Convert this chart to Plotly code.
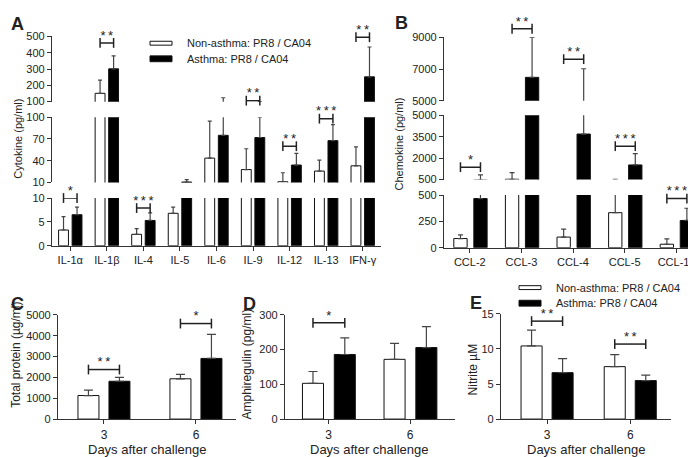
import plotly.graph_objects as go

W, H = 696, 457
FONT = "Liberation Sans, Arial, sans-serif"
INK = "#222222"
AX = "#333333"

# ---------------- data ----------------
a_cats = ["IL-1α", "IL-1β", "IL-4", "IL-5", "IL-6", "IL-9", "IL-12", "IL-13", "IFN-γ"]
a_non = [3.3, 151, 2.4, 6.8, 43.6, 27.8, 11, 25.7, 33]
a_non_sd = [2.8, 81, 1.2, 1.3, 51, 28.7, 12.4, 15.1, 26]
a_asth = [6.5, 301, 5.3, 10.6, 75, 72, 34, 67.7, 252]
a_asth_sd = [1.6, 79, 1.6, 3.4, 49, 28, 16, 22, 183]
a_sig = ["*", "**", "***", "", "", "**", "**", "***", "**"]
a_sig_y = [10, 460, 7.9, None, None, 106, 60, 98, 495]
a_breaks = [(0, 10), (10, 100), (100, 500)]
a_ticks = [[0, 5, 10], [10, 40, 70, 100], [100, 200, 300, 400, 500]]

b_cats = ["CCL-2", "CCL-3", "CCL-4", "CCL-5", "CCL-11"]
b_non = [87, 520, 101, 333, 33]
b_non_sd = [35, 460, 75, 187, 50]
b_asth = [467, 6473, 3684, 1522, 259]
b_asth_sd = [353, 2527, 3334, 798, 116]
b_sig = ["*", "**", "**", "***", "***"]
b_sig_y = [1366, 9545, 7624, 2838, 467]
b_breaks = [(0, 500), (500, 5000), (5000, 9000)]
b_ticks = [[0, 250, 500], [500, 2000, 3500, 5000], [5000, 7000, 9000]]

days = ["3", "6"]
c_non = [1129, 1933]
c_non_sd = [256, 215]
c_asth = [1815, 2911]
c_asth_sd = [182, 1157]
c_sig = ["**", "*"]
c_sig_y = [2377, 4584]
c_ticks = [0, 1000, 2000, 3000, 4000, 5000]

d_non = [103, 172]
d_non_sd = [34, 46]
d_asth = [186, 206]
d_asth_sd = [48, 60]
d_sig = ["*", ""]
d_sig_y = [277, None]
d_ticks = [0, 100, 200, 300]

e_non = [10.43, 7.48]
e_non_sd = [2.27, 1.72]
e_asth = [6.62, 5.49]
e_asth_sd = [2.0, 0.77]
e_sig = ["**", "**"]
e_sig_y = [13.97, 10.7]
e_ticks = [0, 5, 10, 15]

legend_names = ["Non-asthma: PR8 / CA04", "Asthma: PR8 / CA04"]

# ---------------- helpers ----------------
def dx(l, r):
    return [l / W, r / W]


def dy(top, bot):
    return [max(0.0, 1 - bot / H), min(1.0, 1 - top / H)]


fig = go.Figure()
layout = {}
counter = {"x": 0, "y": 0}


def nid(kind):
    counter[kind] += 1
    n = counter[kind]
    return (kind if n == 1 else f"{kind}{n}"), (f"{kind}axis" if n == 1 else f"{kind}axis{n}")


def star_text(s):
    return "\u2009".join(list(s))


def add_brackets(xid, yid, items):
    bx, by, tx, ty, tt = [], [], [], [], []
    for (x0, x1, v, s) in items:
        bx += [x0, x1, None]
        by += [v, v, None]
        tx.append((x0 + x1) / 2)
        ty.append(v)
        tt.append(star_text(s))
    fig.add_trace(go.Scatter(
        x=bx, y=by, xaxis=xid, yaxis=yid, mode="lines+markers",
        line=dict(color="#222", width=1.5),
        marker=dict(symbol="line-ns", size=7, line=dict(color="#222", width=1.5)),
        cliponaxis=False, showlegend=False, hoverinfo="skip",
    ))
    fig.add_trace(go.Scatter(
        x=tx, y=ty, xaxis=xid, yaxis=yid, mode="text", text=tt,
        textposition="top center",
        textfont=dict(family=FONT, size=13, color=INK),
        cliponaxis=False, showlegend=False, hoverinfo="skip",
    ))


def add_panel(cats, non, non_sd, asth, asth_sd, sig, sig_y, breaks, ticks, spec):
    n = len(cats)
    idx = list(range(n))
    xid, xkey = nid("x")
    w = spec["width"]
    ow, ob = spec["offsets"]
    cw, cb = ow + w / 2, ob + w / 2
    yids = []
    assigned = set()
    for si, (lo, hi) in enumerate(breaks):
        yid, ykey = nid("y")
        yids.append(yid)
        top, bot = spec["seg_px"][si]
        layout[ykey] = dict(
            domain=dy(top, bot), range=[lo, hi], anchor=xid,
            tickvals=ticks[si], ticktext=[str(t) for t in ticks[si]],
            showline=True, linecolor=AX, linewidth=1.3,
            ticks="outside", ticklen=4, tickwidth=1.3, tickcolor=AX,
            showgrid=False, zeroline=False,
            tickfont=dict(family=FONT, size=spec["tfs"], color=INK),
            fixedrange=True,
        )
        for vals, sd, off, fill in ((non, non_sd, ow, "white"), (asth, asth_sd, ob, "black")):
            fig.add_trace(go.Bar(
                x=idx, y=vals, xaxis=xid, yaxis=yid, width=w, offset=off,
                marker=dict(color=fill, line=dict(color="#111", width=1)),
                error_y=dict(type="data", symmetric=False, array=sd,
                             arrayminus=[0] * n, color="#444", thickness=1.2,
                             width=spec["ew"]),
                showlegend=False, hoverinfo="skip",
            ))
        last = si == len(breaks) - 1
        items = []
        for i in idx:
            v = sig_y[i]
            if not sig[i] or v is None or i in assigned:
                continue
            if lo <= v <= hi or (last and v > hi):
                assigned.add(i)
                items.append((i + cw, i + cb, v, sig[i]))
        if not items:
            continue
        if last:
            # invisible companion axis with identical scale, extended to the top edge,
            # so that brackets/stars above the top tick stay visible
            eid, ekey = nid("y")
            ext_hi = lo + (hi - lo) * bot / (bot - top)
            layout[ekey] = dict(domain=dy(0, bot), range=[lo, ext_hi], anchor=xid,
                                visible=False, fixedrange=True)
            add_brackets(xid, eid, items)
        else:
            add_brackets(xid, yid, items)
    layout[xkey] = dict(
        domain=dx(*spec["x_px"]), range=spec["xrange"], anchor=yids[0],
        tickvals=idx, ticktext=cats,
        showline=True, linecolor=AX, linewidth=1.3,
        ticks="outside", ticklen=4, tickwidth=1.3, tickcolor=AX,
        showgrid=False, zeroline=False,
        tickfont=dict(family=FONT, size=spec["xfs"], color=INK),
        fixedrange=True,
    )
    return xid


BOT_TOP, BOT_AX = 309, 416

add_panel(a_cats, a_non, a_non_sd, a_asth, a_asth_sd, a_sig, a_sig_y, a_breaks, a_ticks,
          dict(x_px=(44, 373), xrange=[-0.5, 8.5], seg_px=[(189, 238), (106, 173), (23, 90)],
               width=0.27, offsets=(-0.32, 0.05), ew=2, tfs=11, xfs=11))
add_panel(b_cats, b_non, b_non_sd, b_asth, b_asth_sd, b_sig, b_sig_y, b_breaks, b_ticks,
          dict(x_px=(436, 694), xrange=[-0.5, 4.5], seg_px=[(186, 240), (104, 170), (24, 89)],
               width=0.258, offsets=(-0.31, 0.078), ew=2.5, tfs=11, xfs=11))
add_panel(days, c_non, c_non_sd, c_asth, c_asth_sd, c_sig, c_sig_y, [(0, 5000)], [c_ticks],
          dict(x_px=(50, 228), xrange=[-0.5, 1.435], seg_px=[(BOT_TOP, BOT_AX)],
               width=0.228, offsets=(-0.283, 0.054), ew=4.5, tfs=11, xfs=12))
add_panel(days, d_non, d_non_sd, d_asth, d_asth_sd, d_sig, d_sig_y, [(0, 300)], [d_ticks],
          dict(x_px=(277, 447), xrange=[-0.534, 1.55], seg_px=[(BOT_TOP, BOT_AX)],
               width=0.258, offsets=(-0.32, 0.07), ew=4.5, tfs=11, xfs=12))
add_panel(days, e_non, e_non_sd, e_asth, e_asth_sd, e_sig, e_sig_y, [(0, 15)], [e_ticks],
          dict(x_px=(493, 663), xrange=[-0.554, 1.49], seg_px=[(BOT_TOP - 1, BOT_AX)],
               width=0.253, offsets=(-0.313, 0.06), ew=4.5, tfs=11, xfs=12))

annotations = []
shapes = []


def ann(text, xp, yp, size=11, angle=0, bold=False, xanchor="center", yanchor="middle"):
    annotations.append(dict(
        text=f"<b>{text}</b>" if bold else text, x=xp / W, y=1 - yp / H,
        xref="paper", yref="paper", showarrow=False, textangle=angle,
        xanchor=xanchor, yanchor=yanchor,
        font=dict(family=FONT, size=size, color=INK),
    ))


# panel letters
for letter, xp, yp in (("A", 9, 10), ("B", 393, 9), ("C", 9, 298), ("D", 241, 298), ("E", 468, 297)):
    ann(letter, xp, yp, size=18, bold=True)

# y titles
ann("Cytokine (pg/ml)", 10, 128, size=11, angle=-90)
ann("Chemokine (pg/ml)", 391, 134, size=11, angle=-90)
ann("Total protein (µg/ml)", 8, 350, size=12, angle=-90)
ann("Amphiregulin (pg/ml)", 239, 360, size=12, angle=-90)
ann("Nitrite µM", 465, 365, size=12, angle=-90)

# x titles
for cx in (139, 362, 578):
    ann("Days after challenge", cx, 447, size=13)


def legend(x0, y_rows):
    (y1, y2) = y_rows
    shapes.append(dict(type="rect", xref="paper", yref="paper",
                       x0=x0 / W, x1=(x0 + 22) / W, y0=1 - (y1 + 2) / H, y1=1 - (y1 - 2) / H,
                       fillcolor="white", line=dict(color="#111", width=1)))
    shapes.append(dict(type="rect", xref="paper", yref="paper",
                       x0=x0 / W, x1=(x0 + 22) / W, y0=1 - (y2 + 3) / H, y1=1 - (y2 - 3) / H,
                       fillcolor="black", line=dict(color="#111", width=1)))
    ann(legend_names[0], x0 + 35, y1, size=11, xanchor="left")
    ann(legend_names[1], x0 + 35, y2, size=11, xanchor="left")


legend(142, (30, 46))
legend(511, (281, 297))

layout.update(dict(
    width=W, height=H, autosize=False,
    margin=dict(l=0, r=0, t=0, b=0),
    paper_bgcolor="white", plot_bgcolor="rgba(0,0,0,0)",
    barmode="overlay", showlegend=False,
    annotations=annotations, shapes=shapes,
    font=dict(family=FONT, color=INK),
))
fig.update_layout(**layout)
fig.write_html("out.html")
